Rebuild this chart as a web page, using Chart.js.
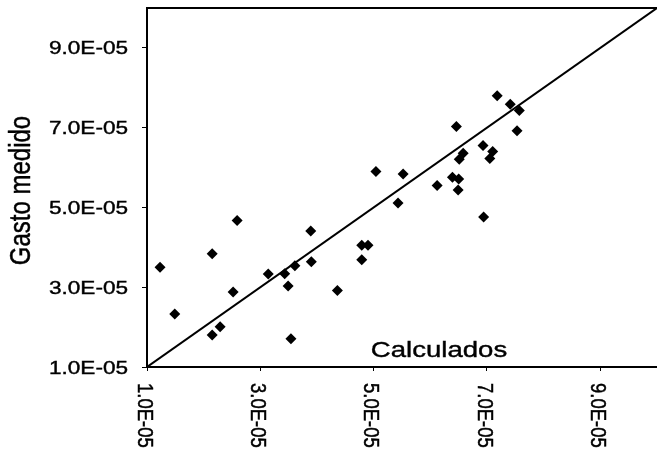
<!DOCTYPE html>
<html>
<head>
<meta charset="utf-8">
<script src="https://cdn.jsdelivr.net/npm/chart.js@4.4.0/dist/chart.umd.min.js"></script>
<style>
  html, body { margin: 0; padding: 0; background: #fff; overflow: hidden; }
  canvas { display: block; }
</style>
</head>
<body>
<canvas id="c" width="657" height="451"></canvas>
<script>
// calculated (x) vs measured (y) flow
const calculados = [1.23e-5, 1.49e-5, 2.15e-5, 2.15e-5, 2.29e-5, 2.52e-5, 2.59e-5, 3.14e-5, 3.43e-5, 3.49e-5, 3.54e-5, 3.61e-5,
  3.90e-5, 3.89e-5, 4.36e-5, 4.79e-5, 4.79e-5, 4.90e-5, 5.04e-5, 5.43e-5, 5.52e-5, 6.12e-5, 6.39e-5, 6.50e-5,
  6.49e-5, 6.46e-5, 6.58e-5, 6.51e-5, 6.93e-5, 6.94e-5, 7.10e-5, 7.05e-5, 7.18e-5, 7.41e-5, 7.57e-5, 7.53e-5];
const gastoMedido = [3.50e-5, 2.33e-5, 3.84e-5, 1.80e-5, 2.01e-5, 2.88e-5, 4.67e-5, 3.33e-5, 3.34e-5, 3.03e-5, 1.71e-5, 3.54e-5,
  3.64e-5, 4.41e-5, 2.92e-5, 3.69e-5, 4.05e-5, 4.05e-5, 5.90e-5, 5.11e-5, 5.84e-5, 5.55e-5, 5.76e-5, 5.71e-5,
  5.44e-5, 7.03e-5, 6.36e-5, 6.21e-5, 6.55e-5, 4.76e-5, 6.40e-5, 6.23e-5, 7.80e-5, 7.59e-5, 7.43e-5, 6.92e-5];
const lineaIgual = [1.0e-5, 1.0e-4];   // 1:1 line
const xTicks = [1e-5, 3e-5, 5e-5, 7e-5, 9e-5];
const yTicks = [1e-5, 3e-5, 5e-5, 7e-5, 9e-5];
const tickLabels = ['1.0E-05', '3.0E-05', '5.0E-05', '7.0E-05', '9.0E-05'];

const FONT = '"Liberation Sans", Arial, sans-serif';
const SX = 1.22; // text in the scan is stretched horizontally

function stretchedText(ctx, txt, x, y, size, align, rot) {
  ctx.save();
  ctx.translate(x, y);
  ctx.scale(SX, 1);
  if (rot) ctx.rotate(rot);
  ctx.font = size + 'px ' + FONT;
  ctx.fillStyle = '#000';
  ctx.strokeStyle = '#000';
  ctx.lineWidth = 0.4;
  ctx.textAlign = align;
  ctx.textBaseline = 'alphabetic';
  ctx.fillText(txt, 0, 0);
  ctx.strokeText(txt, 0, 0);
  ctx.restore();
}

const textos = {
  id: 'textos',
  afterDraw(chart) {
    const { ctx, chartArea: a, scales: { x, y } } = chart;
    // top frame line
    ctx.save();
    ctx.strokeStyle = '#000';
    ctx.lineWidth = 2;
    ctx.beginPath();
    ctx.moveTo(a.left, a.top);
    ctx.lineTo(a.right, a.top);
    ctx.stroke();
    ctx.restore();

    yTicks.forEach((v, i) => {
      stretchedText(ctx, tickLabels[i], 128, y.getPixelForValue(v) + 6.6, 18.5, 'right');
    });
    xTicks.forEach((v, i) => {
      stretchedText(ctx, tickLabels[i], x.getPixelForValue(v) - 9.5, 383, 18.5, 'left', Math.PI / 2);
    });
    stretchedText(ctx, 'Calculados', 439, 357, 22.6, 'center');
    stretchedText(ctx, 'Gasto medido', 30, (a.top + a.bottom) / 2 + 3, 24, 'center', -Math.PI / 2);
  }
};

new Chart(document.getElementById('c').getContext('2d'), {
  type: 'scatter',
  data: {
    datasets: [
      { data: calculados.map((v, i) => ({ x: v, y: gastoMedido[i] })),
        pointStyle: 'rectRot', pointRadius: 5.5, backgroundColor: '#000', borderColor: '#000', borderWidth: 0 },
      { data: lineaIgual.map(v => ({ x: v, y: v })), showLine: true,
        pointRadius: 0, borderColor: '#000', borderWidth: 2 }
    ]
  },
  options: {
    responsive: false, animation: false,
    layout: { autoPadding: false, padding: { top: 8, right: 0, bottom: 0, left: 0 } },
    plugins: { legend: { display: false }, tooltip: { enabled: false } },
    scales: {
      x: { type: 'linear', min: 1e-5, max: 1e-4,
        afterBuildTicks: s => { s.ticks = xTicks.map(v => ({ value: v })); },
        afterFit: s => { s.height = 84; },
        ticks: { display: false },
        grid: { drawOnChartArea: false, drawTicks: true, tickLength: 4, color: '#000' },
        border: { display: true, color: '#000', width: 2 } },
      y: { type: 'linear', min: 1e-5, max: 1e-4,
        afterBuildTicks: s => { s.ticks = yTicks.map(v => ({ value: v })); },
        afterFit: s => { s.width = 147; },
        ticks: { display: false },
        grid: { drawOnChartArea: false, drawTicks: true, tickLength: 5, color: '#000' },
        border: { display: true, color: '#000', width: 2 } }
    }
  },
  plugins: [textos]
});
</script>
</body>
</html>
